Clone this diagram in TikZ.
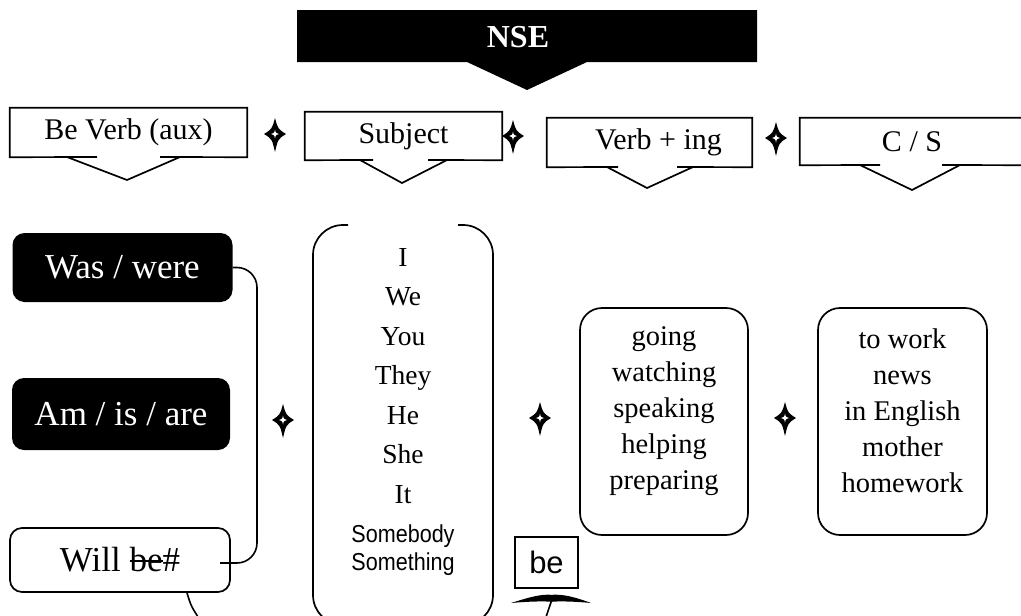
\documentclass[tikz,border=0pt]{standalone}
\usepackage{fontspec}
\setmainfont{Liberation Serif}
\newfontfamily\plainsans{Liberation Sans}
\newfontfamily\narrowsans[FakeStretch=0.88]{Liberation Sans}
\usetikzlibrary{calc}

% struck-through word
\newcommand\strikeword[1]{\begingroup\setbox0\hbox{#1}%
  \rlap{\rule[0.28em]{\wd0}{1.6pt}}\box0\endgroup}

\tikzset{
  outline/.style={line width=1.7pt, line join=miter},
  headbox/.style={inner sep=0pt, font=\fontsize{30}{34}\selectfont},
  darkbox/.style={fill=black, text=white, rounded corners=12pt, inner sep=0pt,
    minimum width=220pt, font=\fontsize{35}{40}\selectfont},
  lightbox/.style={draw, line width=1.7pt, fill=white, rounded corners=12pt, inner sep=0pt,
    font=\fontsize{35}{40}\selectfont},
  listbox/.style={draw, line width=1.7pt, rounded corners=22pt, inner sep=0pt},
  listtext/.style={align=center, inner sep=0pt, font=\fontsize{28.5}{36}\selectfont},
  conn/.style={line width=1.6pt, rounded corners=20pt},
  sparkle/.pic={
    \fill[black]
      (0,-16) .. controls (3,-5) .. (11,0) .. controls (3,5) .. (0,18)
      .. controls (-3,5) .. (-11,0) .. controls (-3,-5) .. cycle;
    \fill[white]
      (0,-4.5) .. controls (0.8,-0.9) .. (3.8,0) .. controls (0.8,0.9) .. (0,4.5)
      .. controls (-0.8,0.9) .. (-3.8,0) .. controls (-0.8,-0.9) .. cycle;
  }
}

\begin{document}
\begin{tikzpicture}[x=1pt, y=-1pt]
  \useasboundingbox (0,0) rectangle (1021,616);
  \fill[white] (0,0) rectangle (1021,616);
  \clip (0,0) rectangle (1021,616);

  % title banner with its pointer
  \fill[black] (297,10) -- (757,10) -- (757,62) -- (587,62) -- (527,90)
               -- (467,62) -- (297,62) -- cycle;
  \node[text=white, font=\fontsize{32}{36}\bfseries\selectfont] (nse) at (518,37) {NSE};

  % header callouts
  \node[headbox, minimum width=237pt, minimum height=49pt] (hb1) at (128.5,132.5) {Be Verb (aux)};
  \draw[outline] (97,157) -- (hb1.south west) -- (hb1.north west) -- (hb1.north east)
                 -- (hb1.south east) -- (160,157);
  \draw[outline] (67,157) -- (127,180) -- (180,157);

  \node[headbox, minimum width=197pt, minimum height=48pt] (hb2) at (403.5,136) {Subject};
  \draw[outline] (373,160) -- (hb2.south west) -- (hb2.north west) -- (hb2.north east)
                 -- (hb2.south east) -- (428,160);
  \draw[outline] (360,160) -- (402,183) -- (447,160);

  \node[headbox, minimum width=205pt, minimum height=49pt] (hb3) at (649.5,142.5) {\hspace*{18pt}Verb + ing};
  \draw[outline] (618,167) -- (hb3.south west) -- (hb3.north west) -- (hb3.north east)
                 -- (hb3.south east) -- (677,167);
  \draw[outline] (607,167) -- (647,188) -- (693,167);

  \node[headbox, minimum width=224pt, minimum height=47pt] (hb4) at (912,141.5) {C / S};
  \draw[outline] (880,165) -- (hb4.south west) -- (hb4.north west) -- (hb4.north east);
  \draw[outline] (942,165) -- (hb4.south east);
  \draw[outline] (860,165) -- (912,190) -- (960,165);

  \pic (p1) at (275,134) {sparkle};
  \pic (p2) at (513,136) {sparkle};
  \pic (p3) at (776,138) {sparkle};

  % auxiliary forms
  \node[darkbox, minimum height=69pt] (was) at (122.5,267.5) {Was / were};
  \node[darkbox, minimum width=218pt, minimum height=72pt] (am) at (121,414) {Am / is / are};
  \node[lightbox, minimum width=220pt, minimum height=64pt] (will) at (120,560) {Will \strikeword{be}\#};

  \coordinate (willend) at (220,563);
  \draw[conn] (was.east) -- (257,267.5) -- (257,563) -- (willend);
  \coordinate (willtail) at (200,620);
  \draw[line width=1.6pt] ($(will.south)+(67,0)$) .. controls (191,606) .. (willtail);

  \pic (p4) at (283,420) {sparkle};

  % subject list between open brackets
  \draw[outline, rounded corners=30pt] (348,225) -- (313,225) -- (313,625) -- (343,625);
  \draw[outline, rounded corners=30pt] (458,225) -- (493,225) -- (493,625) -- (463,625);
  \node[align=center, inner sep=0pt, font=\fontsize{27.5}{39.5}\selectfont] (subjlist) at (403,412)
    {I\\We\\You\\They\\He\\She\\It\\{\narrowsans\fontsize{24.5}{26}\selectfont Somebody}\\[-12pt]%
     {\narrowsans\fontsize{24.5}{26}\selectfont Something}};

  \pic (p5) at (540,418) {sparkle};

  % verb forms
  \node[listbox, minimum width=168pt, minimum height=227pt] (verbbox) at (664,421.5) {};
  \node[listtext] (verbtext) at (664,411) {going\\watching\\speaking\\helping\\preparing};

  \pic (p6) at (785,418) {sparkle};

  % complements
  \node[listbox, minimum width=169pt, minimum height=227pt] (compbox) at (902.5,421.5) {};
  \node[listtext] (comptext) at (902.5,411) {to work\\news\\in English\\mother\\homework};

  % be marker with its pointer
  \node[draw, line width=1.6pt, inner sep=0pt, minimum width=63pt, minimum height=51pt,
        font=\plainsans\fontsize{31}{34}\selectfont] (be) at (546.5,562.5) {be};
  \coordinate (betail) at (545,620);
  \coordinate (betip) at ($(be.south)+(5,6)$);
  \draw[line width=1.6pt] (betail) -- ($(betip)+(0,6)$);
  \fill[black] (511,603) .. controls (530,597) and (541,594) .. (betip)
     .. controls (563,594) and (575,597) .. (591,603)
     .. controls (575,601.5) and (560,601) .. ($(betip)+(0,7)$)
     .. controls (544,601) and (528,601.5) .. cycle;
\end{tikzpicture}
\end{document}
